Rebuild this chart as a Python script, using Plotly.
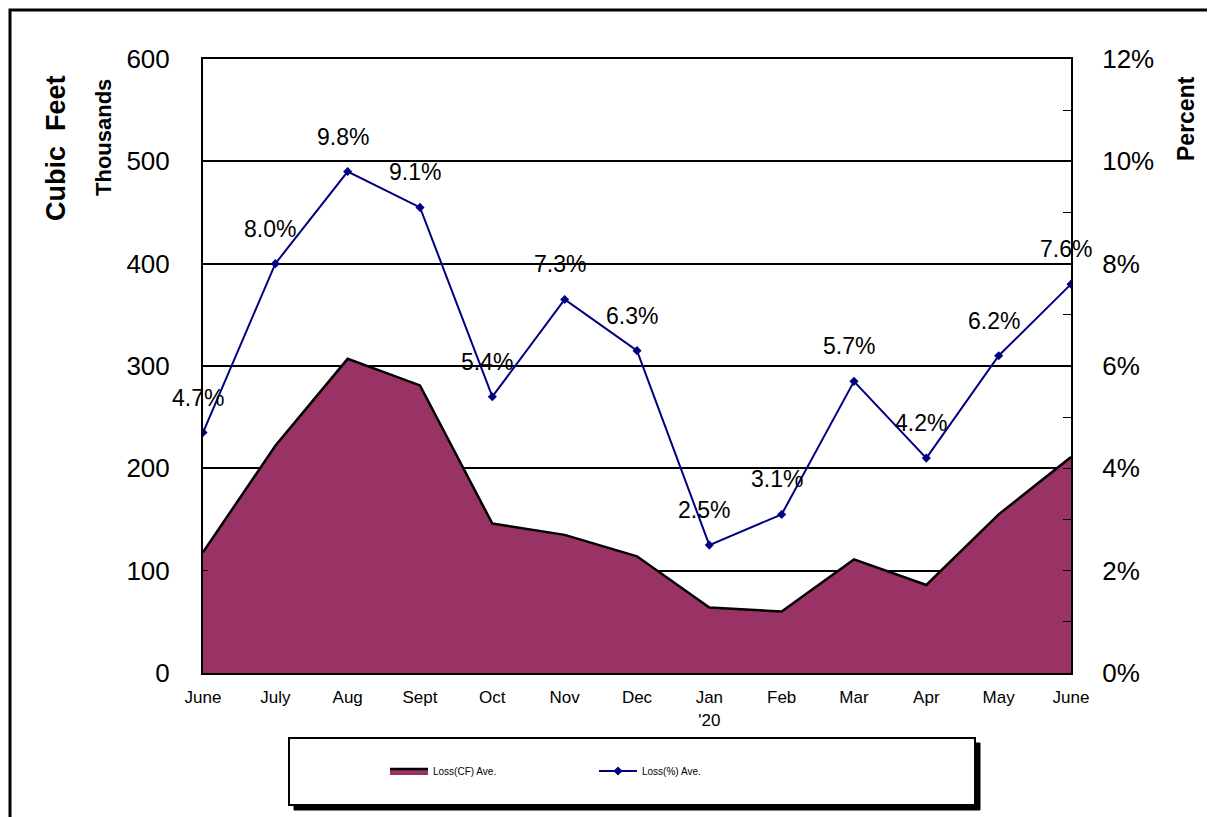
import plotly.graph_objects as go

months = ["June", "July", "Aug", "Sept", "Oct", "Nov", "Dec", "Jan<br>'20", "Feb", "Mar", "Apr", "May", "June"]
loss_cf = [118, 222, 307, 281, 146, 135, 114, 64, 60, 111, 86, 155, 211]
loss_pct = [4.7, 8.0, 9.8, 9.1, 5.4, 7.3, 6.3, 2.5, 3.1, 5.7, 4.2, 6.2, 7.6]

xs = list(range(len(months)))
pct_frac = [p / 100 for p in loss_pct]

OFF = 8  # page body margin
W, H = 1215 - OFF, 817 - OFF
L, R, T, B = 203 - OFF, 1071 - OFF, 59 - OFF, 673 - OFF
pw, ph = R - L, B - T

def px(x):
    return (x - OFF - L) / pw

def py(y):
    return (B - (y - OFF)) / ph

FONT = "Liberation Sans, Arial, sans-serif"

fig = go.Figure()
fig.add_trace(go.Scatter(
    x=xs, y=loss_cf, name="Loss(CF) Ave.", mode="lines",
    fill="tozeroy", fillcolor="#993366",
    line=dict(color="black", width=2.5), yaxis="y",
))
fig.add_trace(go.Scatter(
    x=xs, y=pct_frac, name="Loss(%) Ave.", mode="lines+markers",
    line=dict(color="#000080", width=2),
    marker=dict(symbol="diamond", size=7, color="#000080"),
    yaxis="y2",
))

annotations = []
for x, p in zip(xs, loss_pct):
    annotations.append(dict(
        x=x, y=p / 100, xref="x", yref="y2", text=f"{p:.1f}%",
        showarrow=False, yshift=35, xshift=-5,
        font=dict(family=FONT, size=23, color="black"),
    ))

annotations += [
    dict(x=px(56), y=py(148), xref="paper", yref="paper", text="<b>Cubic  Feet</b>",
         xanchor="center", yanchor="middle",
         textangle=-90, showarrow=False, font=dict(family=FONT, size=27, color="black")),
    dict(x=px(104), y=py(138), xref="paper", yref="paper", text="<b>Thousands</b>",
         xanchor="center", yanchor="middle",
         textangle=-90, showarrow=False, font=dict(family=FONT, size=22, color="black")),
    dict(x=px(1186), y=py(119), xref="paper", yref="paper", text="<b>Percent</b>",
         xanchor="center", yanchor="middle",
         textangle=-90, showarrow=False, font=dict(family=FONT, size=23, color="black")),
]

shapes = [
    # outer border
    dict(type="rect", xref="paper", yref="paper", x0=px(10), x1=px(1240), y0=py(10), y1=py(840),
         line=dict(color="black", width=3), fillcolor="rgba(0,0,0,0)", layer="below"),
    # legend shadow
    dict(type="rect", xref="paper", yref="paper", x0=px(294), x1=px(980), y0=py(743), y1=py(810),
         line=dict(color="black", width=1), fillcolor="black", layer="below"),
    # legend box
    dict(type="rect", xref="paper", yref="paper", x0=px(289), x1=px(975), y0=py(738), y1=py(805),
         line=dict(color="black", width=2), fillcolor="white", layer="below"),
]

fig.update_layout(
    width=W, height=H,
    margin=dict(l=L, r=W - R, t=T, b=H - B, pad=0),
    paper_bgcolor="white", plot_bgcolor="white",
    font=dict(family=FONT, color="black"),
    showlegend=True,
    legend=dict(
        orientation="h", x=px(385), y=py(771), xanchor="left", yanchor="middle",
        bgcolor="rgba(0,0,0,0)", entrywidth=156, entrywidthmode="pixels", itemwidth=38,
        font=dict(family=FONT, size=10, color="black"),
    ),
    xaxis=dict(
        range=[0, 12], tickmode="array", tickvals=xs, ticktext=months,
        showgrid=False, zeroline=False, showline=True, mirror=True,
        linecolor="black", linewidth=2, ticks="", ticklabelstandoff=8,
        tickfont=dict(family=FONT, size=17, color="black"),
    ),
    yaxis=dict(
        range=[0, 600], dtick=100, showgrid=True, gridcolor="black", gridwidth=1.5,
        zeroline=False, showline=True, linecolor="black", linewidth=2,
        ticks="inside", ticklen=5, tickcolor="black", ticklabelstandoff=26,
        tickfont=dict(family=FONT, size=26, color="black"),
    ),
    yaxis2=dict(
        range=[0, 0.12], dtick=0.02, tickformat=".0%", overlaying="y", side="right",
        showgrid=False, zeroline=False, showline=True, linecolor="black", linewidth=2,
        ticks="inside", ticklen=8, tickcolor="black", ticklabelstandoff=24,
        minor=dict(dtick=0.01, ticks="inside", ticklen=8, tickcolor="black"),
        tickfont=dict(family=FONT, size=26, color="black"),
    ),
    annotations=annotations,
    shapes=shapes,
)

fig.write_html("out.html")
